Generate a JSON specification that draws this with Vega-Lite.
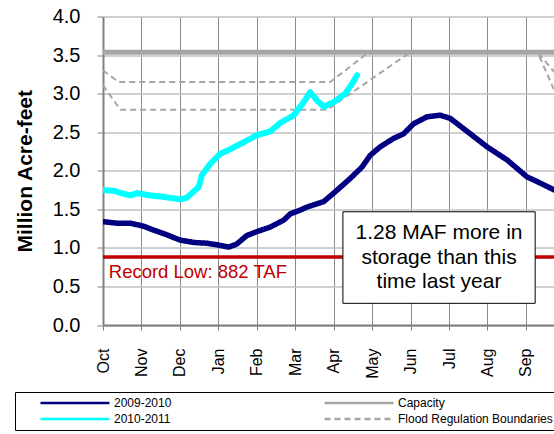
{
  "$schema": "https://vega.github.io/schema/vega-lite/v6.json",
  "width": 451,
  "height": 308.5,
  "autosize": {"type": "none"},
  "padding": {"left": 103, "top": 16.5, "right": 0, "bottom": 109},
  "background": "white",
  "datasets": {
    "lines": [
      {"series": "Flood Regulation Boundaries", "part": "upper", "m": 0, "v": 3.30},
      {"series": "Flood Regulation Boundaries", "part": "upper", "m": 0.41, "v": 3.15},
      {"series": "Flood Regulation Boundaries", "part": "upper", "m": 5.91, "v": 3.15},
      {"series": "Flood Regulation Boundaries", "part": "upper", "m": 6.91, "v": 3.537},
      {"series": "Flood Regulation Boundaries", "part": "upper", "m": 11.30, "v": 3.537},
      {"series": "Flood Regulation Boundaries", "part": "upper", "m": 11.74, "v": 3.28},
      {"series": "Flood Regulation Boundaries", "part": "lower", "m": 0, "v": 3.11},
      {"series": "Flood Regulation Boundaries", "part": "lower", "m": 0.45, "v": 2.79},
      {"series": "Flood Regulation Boundaries", "part": "lower", "m": 5.83, "v": 2.79},
      {"series": "Flood Regulation Boundaries", "part": "lower", "m": 7.99, "v": 3.537},
      {"series": "Flood Regulation Boundaries", "part": "lower", "m": 11.30, "v": 3.537},
      {"series": "Flood Regulation Boundaries", "part": "lower", "m": 11.74, "v": 3.04},
      {"series": "Capacity", "part": "cap", "m": 0, "v": 3.537},
      {"series": "Capacity", "part": "cap", "m": 12, "v": 3.537},
      {"series": "2009-2010", "part": "a", "m": 0.0, "v": 1.34},
      {"series": "2009-2010", "part": "a", "m": 0.36, "v": 1.32},
      {"series": "2009-2010", "part": "a", "m": 0.71, "v": 1.32},
      {"series": "2009-2010", "part": "a", "m": 1.06, "v": 1.28},
      {"series": "2009-2010", "part": "a", "m": 1.32, "v": 1.23},
      {"series": "2009-2010", "part": "a", "m": 1.66, "v": 1.17},
      {"series": "2009-2010", "part": "a", "m": 2.01, "v": 1.10},
      {"series": "2009-2010", "part": "a", "m": 2.36, "v": 1.07},
      {"series": "2009-2010", "part": "a", "m": 2.70, "v": 1.06},
      {"series": "2009-2010", "part": "a", "m": 2.96, "v": 1.04},
      {"series": "2009-2010", "part": "a", "m": 3.27, "v": 1.01},
      {"series": "2009-2010", "part": "a", "m": 3.48, "v": 1.05},
      {"series": "2009-2010", "part": "a", "m": 3.74, "v": 1.16},
      {"series": "2009-2010", "part": "a", "m": 4.0, "v": 1.21},
      {"series": "2009-2010", "part": "a", "m": 4.35, "v": 1.27},
      {"series": "2009-2010", "part": "a", "m": 4.70, "v": 1.36},
      {"series": "2009-2010", "part": "a", "m": 4.87, "v": 1.44},
      {"series": "2009-2010", "part": "a", "m": 5.13, "v": 1.49},
      {"series": "2009-2010", "part": "a", "m": 5.31, "v": 1.53},
      {"series": "2009-2010", "part": "a", "m": 5.74, "v": 1.60},
      {"series": "2009-2010", "part": "a", "m": 6.0, "v": 1.71},
      {"series": "2009-2010", "part": "a", "m": 6.43, "v": 1.90},
      {"series": "2009-2010", "part": "a", "m": 6.74, "v": 2.05},
      {"series": "2009-2010", "part": "a", "m": 6.95, "v": 2.20},
      {"series": "2009-2010", "part": "a", "m": 7.21, "v": 2.31},
      {"series": "2009-2010", "part": "a", "m": 7.56, "v": 2.42},
      {"series": "2009-2010", "part": "a", "m": 7.82, "v": 2.48},
      {"series": "2009-2010", "part": "a", "m": 8.08, "v": 2.61},
      {"series": "2009-2010", "part": "a", "m": 8.43, "v": 2.70},
      {"series": "2009-2010", "part": "a", "m": 8.77, "v": 2.72},
      {"series": "2009-2010", "part": "a", "m": 9.03, "v": 2.68},
      {"series": "2009-2010", "part": "a", "m": 9.55, "v": 2.48},
      {"series": "2009-2010", "part": "a", "m": 9.99, "v": 2.31},
      {"series": "2009-2010", "part": "a", "m": 10.51, "v": 2.14},
      {"series": "2009-2010", "part": "a", "m": 11.03, "v": 1.92},
      {"series": "2009-2010", "part": "a", "m": 11.29, "v": 1.86},
      {"series": "2009-2010", "part": "a", "m": 11.74, "v": 1.75},
      {"series": "2010-2011", "part": "b", "m": 0.0, "v": 1.75},
      {"series": "2010-2011", "part": "b", "m": 0.28, "v": 1.74},
      {"series": "2010-2011", "part": "b", "m": 0.55, "v": 1.70},
      {"series": "2010-2011", "part": "b", "m": 0.71, "v": 1.68},
      {"series": "2010-2011", "part": "b", "m": 0.88, "v": 1.71},
      {"series": "2010-2011", "part": "b", "m": 1.23, "v": 1.68},
      {"series": "2010-2011", "part": "b", "m": 1.58, "v": 1.66},
      {"series": "2010-2011", "part": "b", "m": 2.01, "v": 1.63},
      {"series": "2010-2011", "part": "b", "m": 2.18, "v": 1.65},
      {"series": "2010-2011", "part": "b", "m": 2.49, "v": 1.79},
      {"series": "2010-2011", "part": "b", "m": 2.57, "v": 1.94},
      {"series": "2010-2011", "part": "b", "m": 2.79, "v": 2.09},
      {"series": "2010-2011", "part": "b", "m": 3.05, "v": 2.22},
      {"series": "2010-2011", "part": "b", "m": 3.31, "v": 2.28},
      {"series": "2010-2011", "part": "b", "m": 3.66, "v": 2.37},
      {"series": "2010-2011", "part": "b", "m": 4.0, "v": 2.46},
      {"series": "2010-2011", "part": "b", "m": 4.35, "v": 2.51},
      {"series": "2010-2011", "part": "b", "m": 4.61, "v": 2.62},
      {"series": "2010-2011", "part": "b", "m": 4.96, "v": 2.72},
      {"series": "2010-2011", "part": "b", "m": 5.22, "v": 2.89},
      {"series": "2010-2011", "part": "b", "m": 5.39, "v": 3.02},
      {"series": "2010-2011", "part": "b", "m": 5.57, "v": 2.91},
      {"series": "2010-2011", "part": "b", "m": 5.74, "v": 2.83},
      {"series": "2010-2011", "part": "b", "m": 6.0, "v": 2.89},
      {"series": "2010-2011", "part": "b", "m": 6.30, "v": 3.00},
      {"series": "2010-2011", "part": "b", "m": 6.48, "v": 3.13},
      {"series": "2010-2011", "part": "b", "m": 6.61, "v": 3.24}
    ],
    "low": [{"label": "Record Low: 882 TAF", "value": 0.882}],
    "note": [{"note": "1.28 MAF more in\nstorage than this\ntime last year"}]
  },
  "layer": [
    {
      "data": {"name": "lines"},
      "transform": [{"filter": "datum.series == 'Flood Regulation Boundaries'"}],
      "mark": {"type": "line", "strokeWidth": 2, "clip": true},
      "encoding": {
        "x": {
          "field": "m", "type": "quantitative",
          "scale": {"domain": [0, 11.73], "nice": false, "zero": false},
          "axis": {
            "values": [0, 1, 2, 3, 4, 5, 6, 7, 8, 9, 10, 11],
            "tickCount": 20,
            "labelExpr": "['Oct','Nov','Dec','Jan','Feb','Mar','Apr','May','Jun','Jul','Aug','Sep'][datum.value]",
            "labelAngle": -90, "labelFontSize": 16, "labelPadding": 18, "tickSize": 5,
            "labelFlush": false, "labelOverlap": false, "labelColor": "#000000",
            "title": null, "grid": true, "gridColor": "#8c8c8c", "gridWidth": 1,
            "tickColor": "#808080", "domainColor": "#808080", "domainWidth": 2
          }
        },
        "y": {
          "field": "v", "type": "quantitative",
          "scale": {"domain": [0, 4], "nice": false},
          "axis": {
            "values": [0, 0.5, 1, 1.5, 2, 2.5, 3, 3.5, 4],
            "tickCount": 20,
            "format": ".1f",
            "title": "Million Acre-feet", "titleFontSize": 21, "titleFontWeight": "bold",
            "titleColor": "#000000", "titleX": -78, "titleY": 154.25, "titleAngle": -90,
            "titleAlign": "center", "titleBaseline": "middle",
            "labelFontSize": 20, "labelPadding": 17, "tickSize": 6, "labelColor": "#000000",
            "labelFlush": false, "labelOverlap": false, "labelBound": false,
            "grid": true, "gridColor": "#c0c0c0", "gridWidth": 1.5,
            "tickColor": "#808080", "domainColor": "#808080", "domainWidth": 2
          }
        },
        "detail": {"field": "part"},
        "color": {
          "field": "series", "type": "nominal",
          "scale": {"domain": ["2009-2010", "2010-2011", "Capacity", "Flood Regulation Boundaries"], "range": ["#000080", "#00ffff", "#a6a6a6", "#a6a6a6"]},
          "legend": {"title": null}
        },
        "strokeDash": {
          "field": "series", "type": "nominal",
          "scale": {"domain": ["2009-2010", "2010-2011", "Capacity", "Flood Regulation Boundaries"], "range": [[1, 0], [1, 0], [1, 0], [6, 4]]},
          "legend": {"title": null}
        }
      }
    },
    {
      "data": {"name": "lines"},
      "transform": [{"filter": "datum.series == 'Capacity'"}],
      "mark": {"type": "line", "strokeWidth": 5, "clip": true},
      "encoding": {
        "x": {"field": "m", "type": "quantitative"},
        "y": {"field": "v", "type": "quantitative"},
        "color": {"field": "series", "type": "nominal", "legend": {"title": null}},
        "strokeDash": {"field": "series", "type": "nominal", "legend": {"title": null}}
      }
    },
    {
      "data": {"name": "low"},
      "mark": {"type": "rule", "color": "#c00000", "strokeWidth": 3.5},
      "encoding": {
        "y": {"field": "value", "type": "quantitative"}
      }
    },
    {
      "data": {"name": "lines"},
      "transform": [{"filter": "datum.series == '2009-2010'"}],
      "mark": {"type": "line", "strokeWidth": 5.5, "strokeJoin": "round", "strokeCap": "round", "clip": true},
      "encoding": {
        "x": {"field": "m", "type": "quantitative"},
        "y": {"field": "v", "type": "quantitative"},
        "color": {"field": "series", "type": "nominal", "legend": {"title": null}},
        "strokeDash": {"field": "series", "type": "nominal", "legend": {"title": null}}
      }
    },
    {
      "data": {"name": "lines"},
      "transform": [{"filter": "datum.series == '2010-2011'"}],
      "mark": {"type": "line", "strokeWidth": 6, "strokeJoin": "round", "strokeCap": "round", "clip": true},
      "encoding": {
        "x": {"field": "m", "type": "quantitative"},
        "y": {"field": "v", "type": "quantitative"},
        "color": {"field": "series", "type": "nominal", "legend": {"title": null}},
        "strokeDash": {"field": "series", "type": "nominal", "legend": {"title": null}}
      }
    },
    {
      "data": {"name": "note"},
      "mark": {"type": "rect", "fill": "#ffffff", "stroke": "#000000", "strokeWidth": 1},
      "encoding": {
        "x": {"datum": 6.24, "type": "quantitative"},
        "x2": {"datum": 11.24},
        "y": {"datum": 1.468, "type": "quantitative"},
        "y2": {"datum": 0.281}
      }
    },
    {
      "data": {"name": "note"},
      "mark": {"type": "text", "fontSize": 21, "lineBreak": "\n", "lineHeight": 24.5, "align": "center", "baseline": "middle", "color": "#000000"},
      "encoding": {
        "x": {"datum": 8.74, "type": "quantitative"},
        "y": {"datum": 1.188, "type": "quantitative"},
        "text": {"field": "note"}
      }
    },
    {
      "data": {"name": "low"},
      "mark": {"type": "text", "fontSize": 18.5, "align": "left", "baseline": "middle", "color": "#c00000"},
      "encoding": {
        "x": {"datum": 0.15, "type": "quantitative"},
        "y": {"datum": 0.69, "type": "quantitative"},
        "text": {"field": "label"}
      }
    }
  ],
  "config": {
    "font": "Liberation Sans",
    "view": {"stroke": null},
    "legend": {
      "orient": "none", "legendX": -88, "legendY": 375.5,
      "columns": 2, "symbolType": "stroke", "symbolSize": 4761, "symbolStrokeWidth": 2.5,
      "clipHeight": 14, "labelFontSize": 12, "labelColor": "#000000", "labelLimit": 300,
      "labelOffset": 3, "symbolOffset": 20, "columnPadding": 131, "rowPadding": 2,
      "padding": 4, "strokeColor": "#000000"
    }
  }
}
